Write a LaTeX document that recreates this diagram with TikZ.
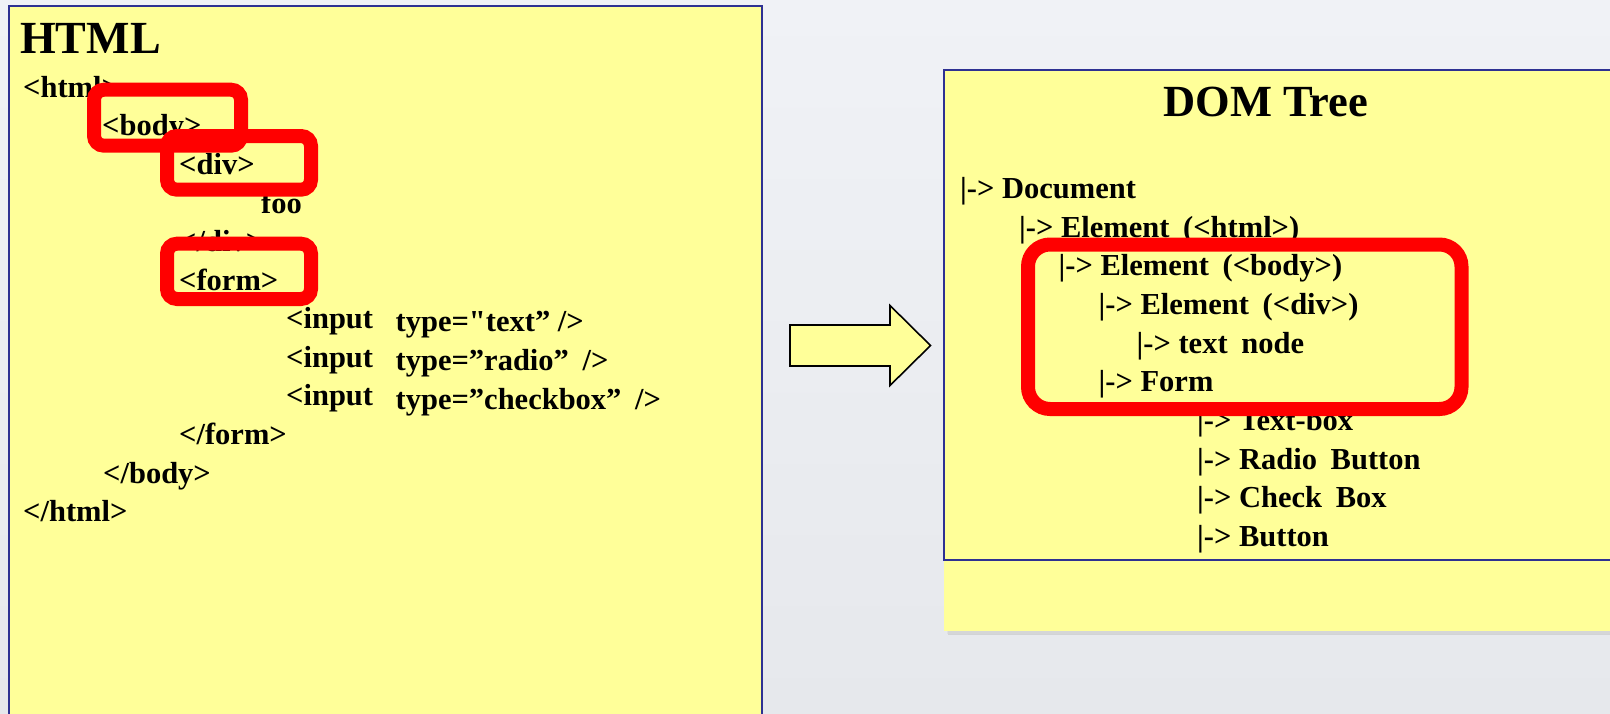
\documentclass[tikz,border=0pt]{standalone}
\usepackage{fontspec}
\setmainfont{Liberation Serif}[Ligatures=TeXOff]
\usetikzlibrary{calc}
\definecolor{paper}{HTML}{FFFF99}
\definecolor{frame}{HTML}{2E3192}
\definecolor{mark}{HTML}{FF0000}
\definecolor{bgtop}{HTML}{F0F2F6}
\definecolor{bgbot}{HTML}{E6E8EC}
\newcommand\wsp{\hspace{0.45em}}
\tikzset{
  code/.style={anchor=base west, inner sep=0pt, font=\fontsize{30.5}{36}\selectfont\bfseries},
  heading/.style={anchor=base west, inner sep=0pt, font=\fontsize{46}{50}\selectfont\bfseries},
  panel/.style={fill=paper, draw=frame, line width=2pt},
  ring/.style={draw=mark, line width=14pt},
  blockarrow/.style={fill=paper, draw=black, line width=1.6pt, line join=miter},
}
\begin{document}
\begin{tikzpicture}[x=1pt,y=-1pt]
\useasboundingbox (0,0) rectangle (1610,713);
\clip (0,0) rectangle (1610,713);
% backdrop
\shade[top color=bgtop, bottom color=bgbot] (0,0) rectangle (1610,713);

% HTML source panel
\fill[paper] (8.5,6) rectangle (762,720);
\draw[frame, line width=2pt] (8.5,720) -- (8.5,6) -- (762,6) -- (762,720);

% DOM panel with its lower strip and shadow
\fill[black!25, opacity=0.5] (948,70) rectangle (1620,635);
\fill[black!15, opacity=0.5] (947,70) rectangle (1620,633.5);
\fill[paper] (944,70) rectangle (1620,631);
\draw[panel] (944,70) rectangle (1620,560);

% conversion arrow
\draw[blockarrow] (790,325) -- (890,325) -- (890,305.5) -- (930.5,345.5)
  -- (890,385.5) -- (890,366) -- (790,366) -- cycle;

% HTML listing
\node[heading] (htmlTitle) at (20,53.7) {HTML};
\node[code] (hOpen)    at (23,97)    {<html>};
\node[code] (bOpen)    at (102,135.6) {<body>};
\node[code] (dOpen)    at (179,174.6) {<div>};
\node[code] (fooTxt)   at (261,213)  {foo};
\node[code] (dClose)   at (179,251.6) {</div>};
\node[code] (fOpen)    at (179,290)  {<form>};
\node[code] (inA)      at (286,328.6) {<input};
\node[code] (typeA)    at (395.5,331) {type="text” />};
\node[code] (inB)      at (286,367.2) {<input};
\node[code] (typeB)    at (395.5,370.5) {type=”radio”\wsp/>};
\node[code] (inC)      at (286,405.8) {<input};
\node[code] (typeC)    at (395.5,409.5) {type=”checkbox”\wsp/>};
\node[code] (fClose)   at (179,444.4) {</form>};
\node[code] (bClose)   at (103,483)  {</body>};
\node[code] (hClose)   at (23,521.6) {</html>};

% DOM listing
\node[heading, font=\fontsize{44.5}{50}\selectfont\bfseries] (domTitle) at (1163.5,116) {DOM Tree};
\node[code] (tDoc)   at (960,198.3) {|-> Document};
\node[code] (tHtml)  at (1019,237)  {|-> Element\wsp(<html>)};
\node[code] (tBody)  at (1058.5,275.7) {|-> Element\wsp(<body>)};
\node[code] (tDiv)   at (1098.5,314.4) {|-> Element\wsp(<div>)};
\node[code] (tText)  at (1136.5,353.1) {|-> text\wsp node};
\node[code] (tForm)  at (1098.5,391.8) {|-> Form};
\node[code] (tBox)   at (1197,430.5) {|-> Text-box};
\node[code] (tRadio) at (1197,469.2) {|-> Radio\wsp Button};
\node[code] (tCheck) at (1197,507.9) {|-> Check\wsp Box};
\node[code] (tBtn)   at (1197,546.6) {|-> Button};

% highlight rings
\draw[ring, rounded corners=10pt] (94,89.7) rectangle (241,145.7);
\draw[ring, rounded corners=10pt] (167,136) rectangle (311,189.7);
\draw[ring, rounded corners=10pt] (167,243.7) rectangle (311,299);
\draw[ring, rounded corners=22pt] (1028,244.5) rectangle (1461.5,409);
\end{tikzpicture}
\end{document}
